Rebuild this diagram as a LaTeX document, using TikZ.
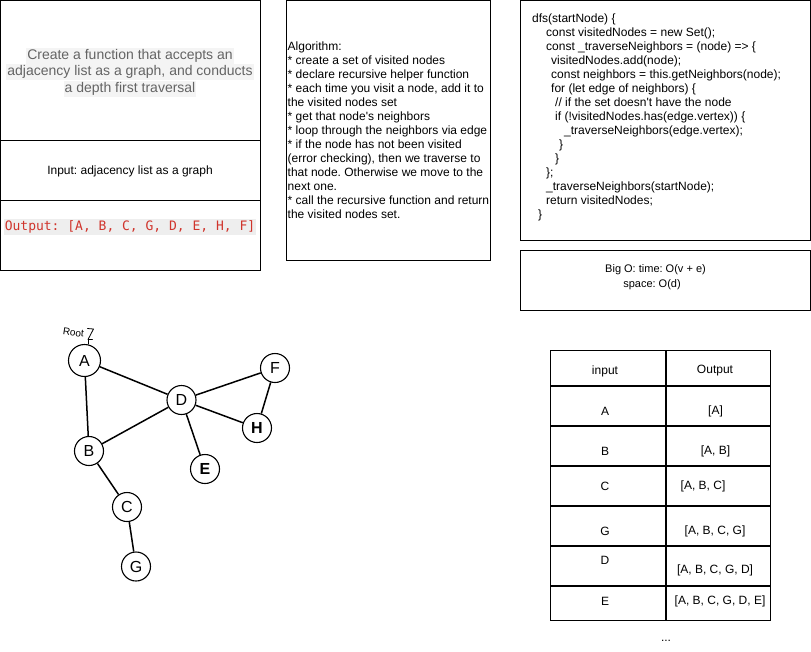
\documentclass[tikz,border=0pt]{standalone}
\usepackage{fontspec}
\setmainfont{Liberation Sans}[Ligatures=TeXOff]
\newfontfamily\codemono{DejaVu Sans Mono}[Ligatures=TeXOff]
\definecolor{titlegray}{RGB}{100,100,100}
\definecolor{hlbg}{RGB}{244,244,244}
\definecolor{outred}{RGB}{208,52,44}
\definecolor{outbg}{RGB}{238,238,238}
\frenchspacing
\begin{document}
\frenchspacing
\begin{tikzpicture}[x=1pt,y=-1pt,
  box/.style={draw=black,line width=0.8pt},
  txt/.style={font=\fontsize{12}{14}\selectfont,inner sep=0pt},
  ltxt/.style={txt,anchor=base west},
  ttl/.style={font=\fontsize{14}{16}\selectfont,text=titlegray,fill=hlbg,inner xsep=1pt,inner ysep=1pt,text height=10.5pt,text depth=3.5pt},
  gnode/.style={circle,draw=black,line width=1.1pt,fill=white,minimum size=29pt,inner sep=0pt,font=\fontsize{16}{16}\selectfont},
  gedge/.style={line width=1.5pt},
  tline/.style={line width=1.6pt}]
\useasboundingbox[fill=white] (0,0) rectangle (811,651);

% ---------- top-left boxes ----------
\draw[box] (0.5,0.5) rectangle (260.5,270.5);
\draw[box] (0.5,140.5) -- (260.5,140.5);
\draw[box] (0.5,200.5) -- (260.5,200.5);
\node[ttl] (t1) at (130,55.5) {Create a function that accepts an};
\node[ttl] (t2) at (130,72) {adjacency list as a graph, and conducts};
\node[ttl] (t3) at (130,88.5) {a depth first traversal};
\node[txt] (inp) at (130,171) {Input: adjacency list as a graph};
\node[font=\codemono\fontsize{13}{15}\selectfont,text=outred,fill=outbg,inner xsep=1pt,inner ysep=1.5pt,text height=10pt,text depth=3pt] (out) at (130,226.5) {Output: [A, B, C, G, D, E, H, F]};

% ---------- algorithm box ----------
\draw[box] (286.5,0.5) rectangle (490.5,260.5);
\foreach \t [count=\i] in {
  Algorithm:,
  * create a set of visited nodes,
  * declare recursive helper function,
  {* each time you visit a node, add it to},
  the visited nodes set,
  * get that node's neighbors,
  * loop through the neighbors via edge,
  * if the node has not been visited,
  {(error checking), then we traverse to},
  that node. Otherwise we move to the,
  next one.,
  * call the recursive function and return,
  the visited nodes set.}
  \node[ltxt] (alg\i) at (287.5,{50.5+14*(\i-1)}) {\t};

% ---------- code box ----------
\draw[box] (520.5,0.5) rectangle (810.5,240.5);
\node[ltxt] (c1) at (532,22.5) {dfs(startNode) \{};
\node[ltxt] (c2) at (546,36.5) {const visitedNodes = new Set();};
\node[ltxt] (c3) at (546,50.5) {const \_traverseNeighbors = (node) => \{};
\node[ltxt] (c4) at (551,64.5) {visitedNodes.add(node);};
\node[ltxt] (c5) at (551,78.5) {const neighbors = this.getNeighbors(node);};
\node[ltxt] (c6) at (551,92.5) {for (let edge of neighbors) \{};
\node[ltxt] (c7) at (555,106.5) {// if the set doesn't have the node};
\node[ltxt] (c8) at (555,120.5) {if (!visitedNodes.has(edge.vertex)) \{};
\node[ltxt] (c9) at (564,134.5) {\_traverseNeighbors(edge.vertex);};
\node[ltxt] (c10) at (559,148.5) {\}};
\node[ltxt] (c11) at (555,162.5) {\}};
\node[ltxt] (c12) at (546,176.5) {\};};
\node[ltxt] (c13) at (546,190.5) {\_traverseNeighbors(startNode);};
\node[ltxt] (c14) at (546,204.5) {return visitedNodes;};
\node[ltxt] (c15) at (538,218.5) {\}};

% ---------- Big O box ----------
\draw[box] (520.5,250.5) rectangle (810.5,310.5);
\node[txt,font=\fontsize{11}{13}\selectfont] (bo1) at (655.5,270) {Big O: time: O(v + e)};
\node[txt,font=\fontsize{11}{13}\selectfont] (bo2) at (652,285) {space: O(d)};

% ---------- graph ----------
\node[gnode,minimum size=32pt] (A) at (84.5,360.5) {A};
\node[gnode] (D) at (181.5,400) {D};
\node[gnode] (F) at (275,368) {F};
\node[gnode,font=\bfseries\fontsize{16}{16}\selectfont] (H) at (257,428) {H};
\node[gnode] (B) at (89,451) {B};
\node[gnode,font=\bfseries\fontsize{16}{16}\selectfont] (E) at (205,469) {E};
\node[gnode] (C) at (127,507) {C};
\node[gnode] (G) at (136,566.5) {G};
\draw[gedge] (A) -- (D);
\draw[gedge] (A) -- (B);
\draw[gedge] (B) -- (D);
\draw[gedge] (D) -- (F);
\draw[gedge] (D) -- (H);
\draw[gedge] (F) -- (H);
\draw[gedge] (D) -- (E);
\draw[gedge] (B) -- (C);
\draw[gedge] (C) -- (G);
\node[font=\fontsize{10}{10}\selectfont,rotate=-8,inner sep=0pt] (root) at (73.5,332.5) {Root};
\coordinate (rt1) at (87.5,328.5);
\coordinate (rt2) at (93.5,329);
\coordinate (rt3) at (88,339.5);
\draw[line width=0.8pt,line cap=round,line join=round] (rt1) -- (rt2) -- (rt3);
\draw[line width=0.8pt,line cap=round,line join=round] ([yshift=-4.5pt]rt3) -- (rt3) -- ([xshift=4.5pt]rt3);

% ---------- table ----------
\draw[line width=1pt] (550.5,350.5) rectangle (770.5,620);
\foreach \yy [count=\k] in {386,426,466,506,546,586}
  \draw[tline] (550.5,\yy) -- (770.5,\yy);
\draw[tline] (666,350.5) -- (666,620);
\node[txt] (h1) at (605,371) {input};
\node[txt] (h2) at (715,371) {Output};
\node[txt] (rA) at (605,411) {A};
\node[txt] (oA) at (715.5,411) {[A]};
\node[txt] (rB) at (605,451) {B};
\node[txt] (oB) at (715.5,451) {[A, B]};
\node[txt] (rC) at (605,486) {C};
\node[txt] (oC) at (703,486) {[A, B, C]};
\node[txt] (rG) at (605,531.5) {G};
\node[txt] (oG) at (715,531.5) {[A, B, C, G]};
\node[txt] (rD) at (605,560.5) {D};
\node[txt] (oD) at (715,570) {[A, B, C, G, D]};
\node[txt] (rE) at (605,601.5) {E};
\node[txt] (oE) at (720,601.5) {[A, B, C, G, D, E]};
\node[txt] (dots) at (666,641) {...};
\end{tikzpicture}
\end{document}
